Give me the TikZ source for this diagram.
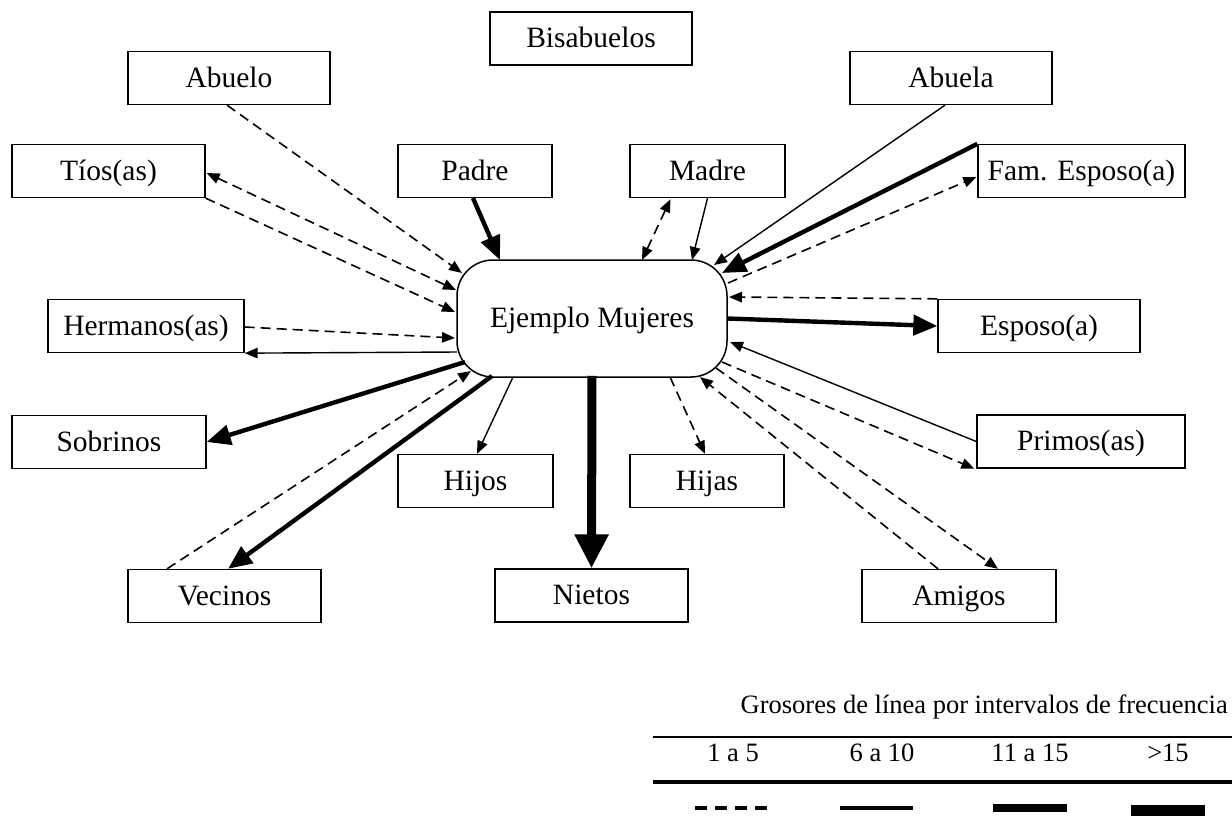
\documentclass[tikz,border=0pt]{standalone}
\usepackage{fontspec}
\setmainfont{Liberation Serif}
\usetikzlibrary{arrows.meta,calc}
\begin{document}
\begin{tikzpicture}[x=1pt,y=-1pt,
  txt/.style={font=\fontsize{29.5}{34}\selectfont,text height=22pt,text depth=4pt},
  legtxt/.style={font=\fontsize{26.5}{30}\selectfont,text height=18pt,text depth=5pt,inner sep=0pt},
  box/.style={txt,draw,line width=1.3pt,inner sep=0pt,minimum height=53pt},
  hub/.style={txt,draw,line width=1.5pt,inner sep=0pt,rounded corners=36pt,
    minimum width=270pt,minimum height=117pt},
  f1/.style={line width=1.6pt,dash pattern=on 10pt off 6pt},
  f2/.style={line width=1.4pt},
  f3/.style={line width=4.4pt},
  f4/.style={line width=9pt},
  tipS/.tip={Triangle[length=13pt,width=10.5pt]},
  tipM/.tip={Triangle[length=24pt,width=20pt]},
  tipL/.tip={Triangle[length=34pt,width=32pt]}]

\useasboundingbox (0,0) rectangle (1232,815);

% family and social network boxes
\node[box,minimum width=202pt] (bis)    at (591,38.5)  {Bisabuelos};
\node[box,minimum width=202pt] (abuelo) at (229,78)    {Abuelo};
\node[box,minimum width=202pt] (abuela) at (951,78)    {Abuela};
\node[box,minimum width=193pt] (tios)   at (108.5,171) {Tíos(as)};
\node[box,minimum width=154pt] (padre)  at (475,171)   {Padre};
\node[box,minimum width=155pt] (madre)  at (707.5,171) {Madre};
\node[box,minimum width=207pt] (fam)    at (1081.5,171){Fam. Esposo(a)};
\node[hub] (hub) at (592,318.5) {Ejemplo Mujeres};
\node[box,minimum width=196pt] (herm)   at (146,326)   {Hermanos(as)};
\node[box,minimum width=202pt] (esposo) at (1039,326)  {Esposo(a)};
\node[box,minimum width=194pt] (sobr)   at (109,442)   {Sobrinos};
\node[box,minimum width=208pt] (primos) at (1081,441.5){Primos(as)};
\node[box,minimum width=155pt] (hijos)  at (475.5,481) {Hijos};
\node[box,minimum width=154pt] (hijas)  at (707,481)   {Hijas};
\node[box,minimum width=193pt] (vecinos) at (224.5,596){Vecinos};
\node[box,minimum width=193pt] (nietos) at (591.5,595.5){Nietos};
\node[box,minimum width=194pt] (amigos) at (959,596)   {Amigos};

% links, drawn with the width of their frequency class
\draw[f1,-tipS] ($(abuelo.south)+(-2,0)$) -- ($(hub.center)+(-130,-45.5)$);
\draw[f1,tipS-tipS] ($(tios.east)+(1,2)$) -- ($(hub.center)+(-136,-28.5)$);
\draw[f1,-tipS] (tios.south east) -- ($(hub.center)+(-137,-6.5)$);
\draw[f1,-tipS] ($(herm.east)+(0,1)$) -- ($(hub.center)+(-137,19.5)$);
\draw[f2,-tipS] ($(hub.center)+(-135,33.5)$) -- (herm.south east);
\draw[f3,-tipM] ($(hub.center)+(-127,43.5)$) -- (sobr.east);
\draw[f1,-tipS] ($(vecinos.north)+(-57.5,0)$) -- ($(hub.center)+(-121,52.5)$);
\draw[f3,-tipM] ($(hub.center)+(-100,57.5)$) -- ($(vecinos.north)+(3.5,0)$);
\draw[f2,-tipS] ($(hub.center)+(-79,58.5)$) -- ($(hijos.north)+(1.5,0)$);
\draw[f4,-tipL] ($(hub.south)+(0,-2)$) -- (nietos.north);
\draw[f1,-tipS] ($(hub.center)+(78,58.5)$) -- ($(hijas.north)+(-2,0)$);
\draw[f1,-tipS] ($(amigos.north)+(-21,0)$) -- ($(hub.center)+(108,58.5)$);
\draw[f1,-tipS] ($(hub.center)+(124,49.5)$) -- ($(amigos.north)+(39,0)$);
\draw[f1,-tipS] ($(hub.center)+(130,43.5)$) -- ($(primos.south west)+(-2,0)$);
\draw[f2,-tipS] (primos.west) -- ($(hub.center)+(138,23.5)$);
\draw[f3,-tipM] (hub.east) -- (esposo.west);
\draw[f1,-tipS] (esposo.north west) -- ($(hub.center)+(137,-21.5)$);
\draw[f1,-tipS] ($(hub.center)+(136,-35.5)$) -- ($(fam.west)+(-1,6)$);
\draw[f3,-tipM] (fam.north west) -- ($(hub.center)+(130,-45.5)$);
\draw[f2,-tipS] ($(abuela.south)+(-6,0)$) -- ($(hub.center)+(122,-53.5)$);
\draw[f2,-tipS] (madre.south) -- ($(hub.center)+(100,-58.5)$);
\draw[f1,tipS-tipS] ($(madre.south)+(-37,1)$) -- ($(hub.center)+(50,-58.5)$);
\draw[f3,-tipM] ($(padre.south)+(-2,0)$) -- ($(hub.center)+(-92,-58.5)$);

% legend: line widths by frequency interval
\node[legtxt,anchor=east] (legtitle) at (1228,707) {Grosores de línea por intervalos de frecuencia};
\draw[line width=1.8pt] (653,737) -- (1232,737);
\node[legtxt] (l1) at (733,755) {1 a 5};
\node[legtxt] (l2) at (882,755) {6 a 10};
\node[legtxt] (l3) at (1030,755) {11 a 15};
\node[legtxt] (l4) at (1168,755) {>15};
\draw[line width=4pt] (653,782) -- (1232,782);
\draw[line width=4pt,dash pattern=on 12pt off 8pt] (695,808) -- (767,808);
\draw[line width=4pt] (840,808) -- (913,808);
\draw[line width=8pt] (993,808) -- (1067,808);
\draw[line width=15pt] (1131,812) -- (1205,812);
\end{tikzpicture}
\end{document}
